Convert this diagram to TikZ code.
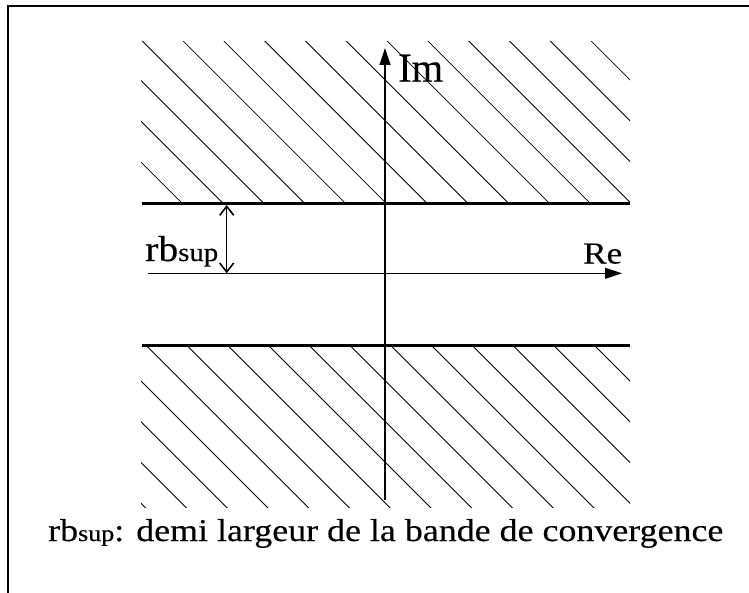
\documentclass[tikz,border=0pt]{standalone}
\usepackage{fontspec}
\setmainfont{Liberation Serif}
\newfontfamily\heavyserif[FakeBold=0.3]{Liberation Serif}
\usetikzlibrary{arrows.meta}
\newcommand{\bigtxt}{\heavyserif\fontsize{20}{24}\selectfont}
\newcommand{\smalltxt}{\fontsize{14.5}{17}\selectfont}
\begin{document}
\begin{tikzpicture}[x=1bp,y=-1bp,
  hatchline/.style={line width=0.8bp},
  bandline/.style={line width=3bp},
  axisline/.style={line width=1.2bp,-{Triangle[length=17bp,width=11bp]}},
  rbarrow/.style={line width=1.1bp,{Straight Barb[length=9bp,width=14bp,line width=1.6bp]}-{Straight Barb[length=9bp,width=14bp,line width=1.6bp]}},
  frameline/.style={line width=2.4bp,line join=miter},
  lbl/.style={inner sep=0pt,anchor=base west}]
\useasboundingbox (0,0) rectangle (749,593);
% frame
\coordinate (fbl) at (7.8,593);
\coordinate (ftl) at (7.8,6.2);
\coordinate (ftr) at (749,6.2);
\draw[frameline] (fbl) -- (ftl) -- (ftr);
% hatching top
\begin{scope}
\clip (141,41.5) rectangle (630,203);
\foreach \k in {-5,...,12} {
  \draw[hatchline] ({101.3+40.8*\k-300},-300) -- ({101.3+40.8*\k+900},900);
}
\end{scope}
% hatching bottom
\begin{scope}
\clip (141,346) rectangle (630,507);
\foreach \k in {-5,...,12} {
  \draw[hatchline] ({-199.3+40.75*\k-300},-300) -- ({-199.3+40.75*\k+900},900);
}
\end{scope}
% band boundaries
\coordinate (tl) at (142,203.5);
\coordinate (tr) at (630,203.5);
\coordinate (bl) at (142,345.7);
\coordinate (br) at (630,345.7);
\draw[bandline] (tl) -- (tr);
\draw[bandline] (bl) -- (br);
% axes
\coordinate (imlow) at (385,500);
\coordinate (imtop) at (385,48);
\coordinate (releft) at (148,273.3);
\coordinate (reright) at (622,273.3);
\draw[axisline] (imlow) -- (imtop);
\draw[axisline] (releft) -- (reright);
% rb arrow
\coordinate (rbtop) at (226.7,205);
\coordinate (rbbot) at (226.7,273.3);
\draw[rbarrow] (rbtop) -- (rbbot);
% labels
\node[lbl] (im) at (398,81.7) {\resizebox{45bp}{27bp}{\bigtxt Im}};
\node[lbl] (re) at (583,263.5) {\resizebox{39bp}{20bp}{\bigtxt Re}};
\node[lbl] (rb) at (145,261) {\resizebox{73bp}{25bp}{\bigtxt rb{\smalltxt sup}}};
\node[lbl] (cap) at (48,541) {\resizebox{675bp}{22bp}{\bigtxt rb{\smalltxt sup}: demi largeur de la bande de convergence}};
\end{tikzpicture}
\end{document}
